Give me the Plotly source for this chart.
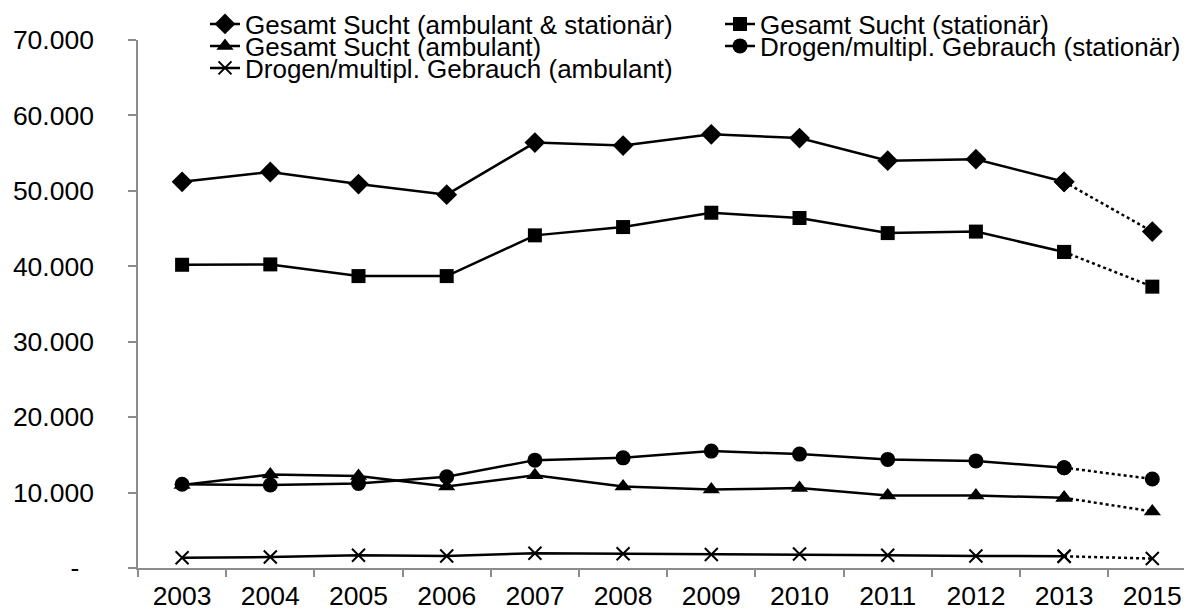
import plotly.graph_objects as go

years = ["2003", "2004", "2005", "2006", "2007", "2008", "2009", "2010", "2011", "2012", "2013", "2015"]

gesamt_amb_stat = [51200, 52500, 50900, 49500, 56400, 56000, 57500, 57000, 54000, 54200, 51200, 44600]
gesamt_stat = [40200, 40250, 38700, 38700, 44100, 45200, 47100, 46400, 44400, 44600, 41900, 37300]
gesamt_amb = [11000, 12400, 12200, 10800, 12300, 10800, 10400, 10600, 9600, 9600, 9300, 7500]
drogen_stat = [11100, 11000, 11200, 12100, 14300, 14600, 15500, 15100, 14400, 14200, 13300, 11800]
drogen_amb = [1350, 1450, 1700, 1600, 1950, 1900, 1800, 1850, 1700, 1600, 1550, 1250]

series_names = [
    "Gesamt Sucht (ambulant & stationär)",
    "Gesamt Sucht (stationär)",
    "Gesamt Sucht (ambulant)",
    "Drogen/multipl. Gebrauch (stationär)",
    "Drogen/multipl. Gebrauch (ambulant)",
]
series_values = [gesamt_amb_stat, gesamt_stat, gesamt_amb, drogen_stat, drogen_amb]

y_tickvals = [0, 10000, 20000, 30000, 40000, 50000, 60000, 70000]
y_ticktext = ["-\u00a0\u00a0", "10.000", "20.000", "30.000", "40.000", "50.000", "60.000", "70.000"]

symbols = ["diamond", "square", "triangle-up", "circle", "x-thin"]
sizes = [16, 14, 15, 15, 13]
FONT = "Liberation Sans, Arial, sans-serif"
FS_TICK = 26.5
FS_LEG = 26
axis_gray = "#8c8c8c"

# page body has an 8px margin: the figure is drawn 8px lower/righter
OFF = 8
W, H = 1192 - OFF, 610 - OFF

# legend placement in page pixels: (legend id, x px, y px)
legend_pos = [
    ("legend", 205, 24),
    ("legend2", 720, 24),
    ("legend3", 205, 46),
    ("legend4", 720, 46),
    ("legend5", 205, 68),
]

fig = go.Figure()

for i, (name, vals) in enumerate(zip(series_names, series_values)):
    sym = symbols[i]
    mk = dict(symbol=sym, size=sizes[i], color="black",
              line=dict(color="black", width=2 if sym == "x-thin" else 0))
    # dotted projection 2013 -> 2015
    fig.add_trace(go.Scatter(
        x=years[-2:], y=vals[-2:], mode="lines+markers",
        line=dict(color="black", width=2.5, dash="3px,3px"),
        marker=mk, showlegend=False, hoverinfo="skip",
    ))
    lid = legend_pos[i][0]
    fig.add_trace(go.Scatter(
        x=years[:-1], y=vals[:-1], mode="lines+markers", name=name,
        line=dict(color="black", width=2.5),
        marker=mk, legend=lid,
    ))

legend_layouts = {}
for lid, px, py in legend_pos:
    legend_layouts[lid] = dict(
        xref="container", yref="container",
        x=(px - OFF) / W, y=1 - (py - OFF) / H, xanchor="left", yanchor="middle",
        orientation="h", font=dict(family=FONT, size=FS_LEG, color="black"),
        bgcolor="rgba(0,0,0,0)", borderwidth=0, itemsizing="trace",
    )

fig.update_layout(
    width=W, height=H,
    margin=dict(l=138 - OFF, r=0, t=40 - OFF, b=42, autoexpand=False),
    paper_bgcolor="white", plot_bgcolor="white",
    font=dict(family=FONT, size=FS_TICK, color="black"),
    **legend_layouts,
)

fig.update_xaxes(
    type="category", categoryorder="array", categoryarray=years,
    range=[-0.5, 11.45],
    showline=True, linecolor=axis_gray, linewidth=1.5,
    ticks="outside", tickson="boundaries", ticklen=7, tickcolor=axis_gray, tickwidth=1.5,
    showgrid=False, zeroline=False,
    tickfont=dict(family=FONT, size=FS_TICK, color="black"),
    ticklabelstandoff=3,
)
fig.update_yaxes(
    range=[0, 70000], tickvals=y_tickvals, ticktext=y_ticktext,
    showline=True, linecolor=axis_gray, linewidth=1.5,
    ticks="outside", ticklen=8, tickcolor=axis_gray, tickwidth=1.5,
    showgrid=False, zeroline=False,
    tickfont=dict(family=FONT, size=FS_TICK, color="black"),
    ticklabelstandoff=29,
)

fig.write_html("out.html")
